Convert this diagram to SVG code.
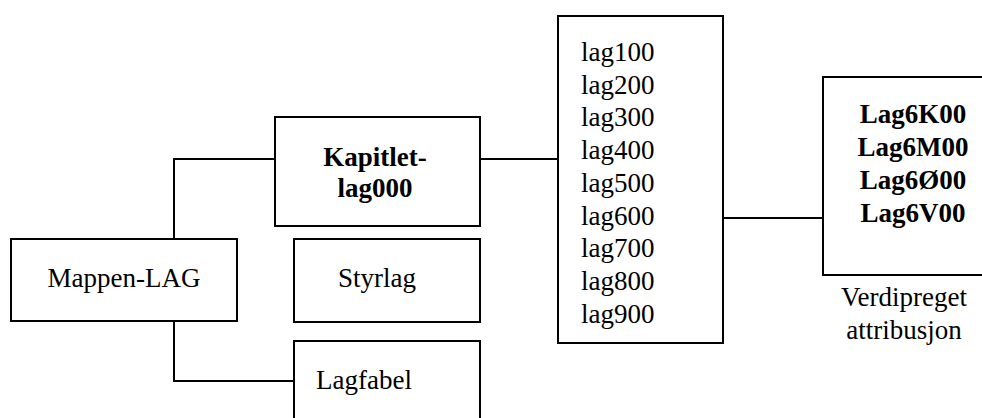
<svg xmlns="http://www.w3.org/2000/svg" width="982" height="418" viewBox="0 0 982 418">
<style>
.box{fill:#fff;stroke:#000;stroke-width:2}
.ln{fill:none;stroke:#000;stroke-width:2}
text{font-family:"Liberation Serif","Times New Roman",serif;font-size:27px;fill:#000}
.b{font-weight:bold}
.m{text-anchor:middle}
</style>
<rect width="982" height="418" fill="#fff"/>
<g id="connectors">
<polyline class="ln" points="174,239 174,159 275,159"/>
<polyline class="ln" points="174,321 174,381 294,381"/>
<line class="ln" x1="480" y1="159" x2="558" y2="159"/>
<line class="ln" x1="723" y1="218" x2="823" y2="218"/>
</g>
<g id="mappen">
<rect class="box" x="11" y="239" width="226" height="82"/>
<text class="m" x="124" y="287">Mappen-LAG</text>
</g>
<g id="kapitlet">
<rect class="box" x="275" y="117" width="205" height="109"/>
<text class="b m" x="375" y="166">Kapitlet-</text>
<text class="b m" x="375" y="197">lag000</text>
</g>
<g id="styrlag">
<rect class="box" x="294" y="239" width="186" height="83"/>
<text class="m" x="377" y="287">Styrlag</text>
</g>
<g id="lagfabel">
<rect class="box" x="294" y="341" width="186" height="100"/>
<text x="316" y="389">Lagfabel</text>
</g>
<g id="lagliste">
<rect class="box" x="558" y="16" width="165" height="327"/>
<text x="581" y="61">lag100</text>
<text x="581" y="93.7">lag200</text>
<text x="581" y="126.4">lag300</text>
<text x="581" y="159.1">lag400</text>
<text x="581" y="191.8">lag500</text>
<text x="581" y="224.5">lag600</text>
<text x="581" y="257.2">lag700</text>
<text x="581" y="289.9">lag800</text>
<text x="581" y="322.6">lag900</text>
</g>
<g id="lag6">
<rect class="box" x="823" y="77" width="200" height="198"/>
<text class="b m" x="913" y="123">Lag6K00</text>
<text class="b m" x="913" y="156">Lag6M00</text>
<text class="b m" x="913" y="189">Lag6Ø00</text>
<text class="b m" x="913" y="222">Lag6V00</text>
</g>
<g id="verdipreget">
<text class="m" x="904" y="306">Verdipreget</text>
<text class="m" x="904" y="339">attribusjon</text>
</g>
</svg>
